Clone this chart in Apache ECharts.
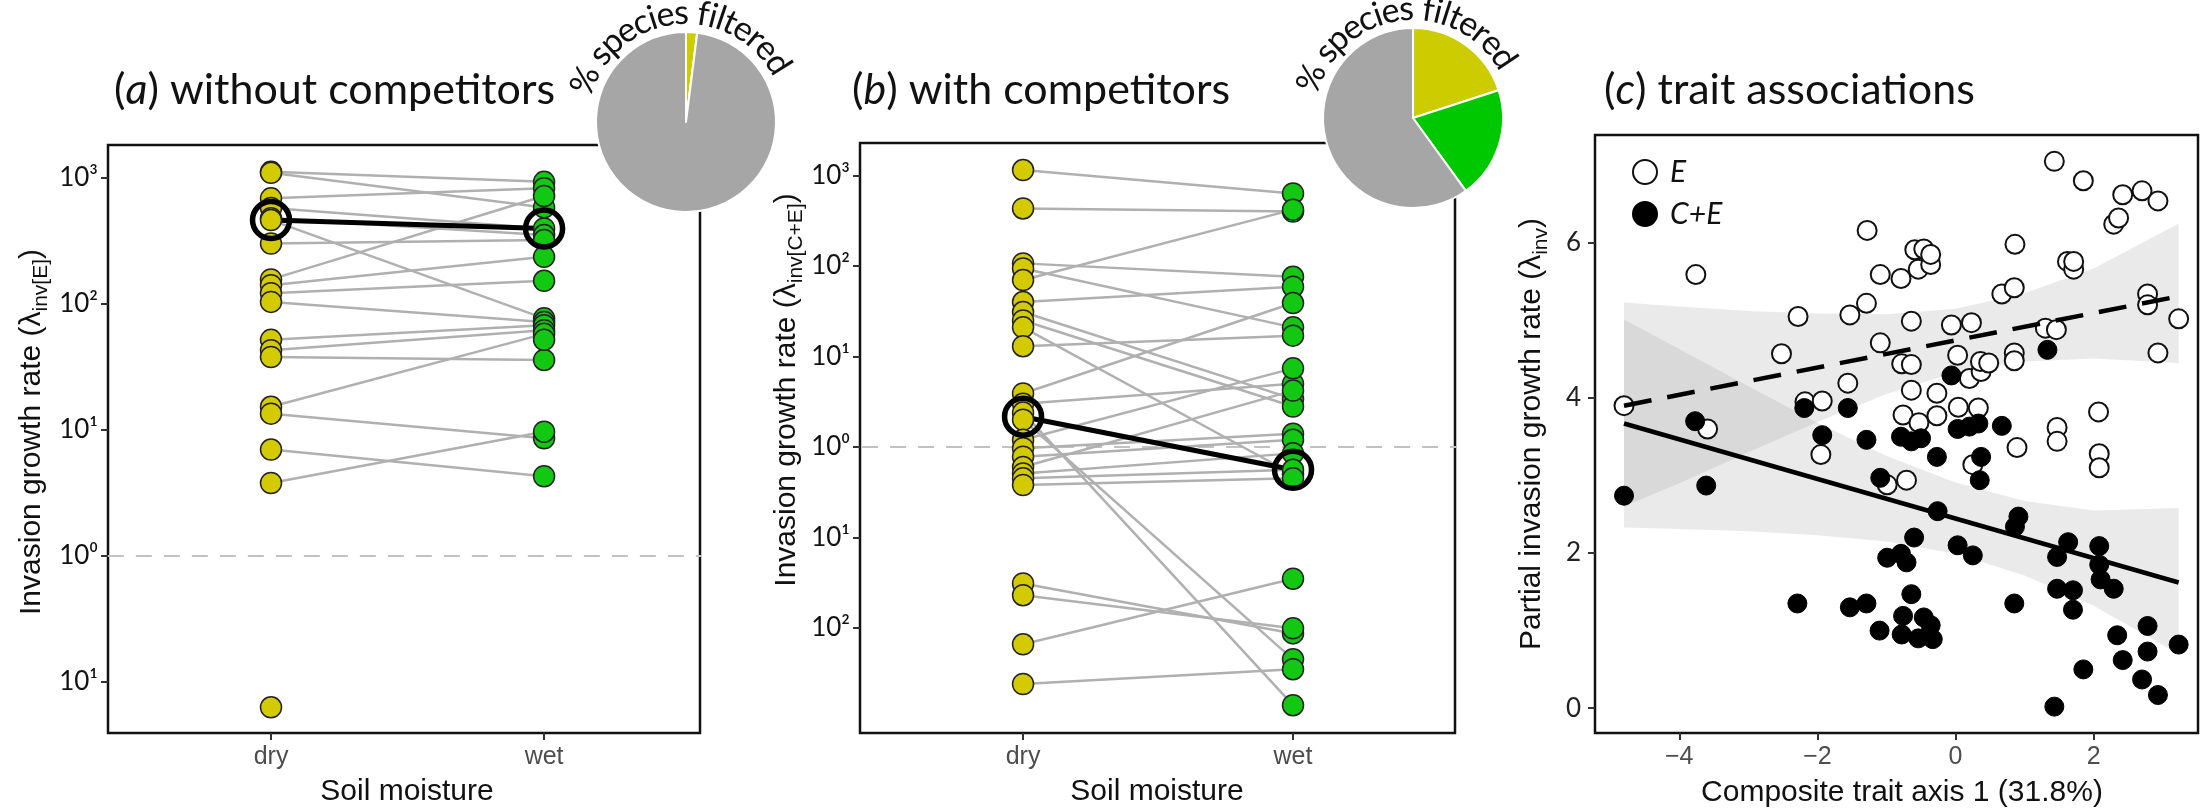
<!DOCTYPE html>
<html>
<head>
<meta charset="utf-8">
<script src="https://cdn.jsdelivr.net/npm/echarts@6.0.0/dist/echarts.min.js"></script>
<style>
  html, body { margin: 0; padding: 0; background: #fff; }
  #chart { width: 2205px; height: 810px; }
</style>
</head>
<body>
<div id="chart"></div>
<script>
// ---- panel (a): invasion growth rate without competitors (pairs dry -> wet, null = no partner)
const aDry = [1120, 1100, 690, 578, 480, 464, 302, 157, 141, 122, 104, 52, 43, 38, 15.3, 13.5, 7.0, 3.8, 0.063, null]
const aWet = [933, 585, 830, 398, 353, 77, 322, 720, 237, 153, 72, 68, 62, 36, 58, 8.6, 4.3, 9.7, null, 52]
const aMean = [464, 398]

// ---- panel (b): with competitors
const bDry = [1150, 433, 107, 94, 70, 40, 31, 25, 21, 13, 3.9, 3.0, 2.4, 2.0, 1.2, 0.97, 0.78, 0.6, 0.51, 0.45, 0.38, 0.031, 0.023, 0.0066, 0.0024]
const bWet = [635, 400, 76, 21, 420, 59, 3.4, 2.8, 0.5, 17, 39, 5.0, 0.0014, 0.0045, 7.4, 1.4, 1.2, 4.2, 0.85, 0.56, 0.45, 0.0087, 0.0099, 0.035, 0.0035]
const bMean = [2.16, 0.56]

const moistureNames = ['dry', 'wet']
const aTickVals = [0.1, 1, 10, 100, 1000]
const aTickText = ['10¹', '10⁰', '10¹', '10²', '10³']
const bTickVals = [0.01, 0.1, 1, 10, 100, 1000]
const bTickText = ['10²', '10¹', '10⁰', '10¹', '10²', '10³']

// ---- pies: % species filtered (yellow = dry, green = wet, grey = kept)
const pieNames = ['dry', 'wet', 'not filtered']
const pieA = [2, 0, 98]
const pieB = [20, 20, 60]

// ---- panel (c): trait associations
const eX = [-4.80, -3.59, -3.76, -2.52, -2.28, -2.18, -1.93, -1.95, -1.56, -1.53, -1.29, -1.28, -1.09, -1.09, -0.99, -0.79, -0.78, -0.76, -0.71, -0.64, -0.64, -0.64, -0.54, -0.59, -0.46, -0.36, -0.36, -0.53, -0.27, -0.27, -0.06, 0.03, 0.04, 0.20, 0.23, 0.25, 0.33, 0.37, 0.36, 0.48, 0.67, 0.85, 0.86, 0.85, 0.85, 0.89, 1.30, 1.46, 1.43, 1.47, 1.47, 1.62, 1.71, 1.71, 1.85, 2.07, 2.08, 2.08, 2.29, 2.36, 2.42, 2.70, 2.78, 2.78, 2.93, 2.93, 3.23]
const eY = [3.90, 3.60, 5.59, 4.57, 5.05, 3.95, 3.96, 3.27, 4.19, 5.07, 5.22, 6.16, 5.59, 4.71, 2.88, 5.54, 4.44, 3.78, 2.94, 4.99, 4.43, 4.10, 5.66, 5.91, 5.92, 5.72, 5.85, 3.68, 4.06, 3.77, 4.94, 4.55, 3.88, 4.25, 4.97, 3.14, 3.87, 4.34, 4.47, 4.45, 5.34, 5.42, 5.98, 4.58, 4.48, 3.36, 4.90, 4.88, 7.05, 3.62, 3.44, 5.76, 5.66, 5.76, 6.80, 3.82, 3.28, 3.10, 6.24, 6.32, 6.62, 6.67, 5.34, 5.20, 6.54, 4.58, 5.02]
const ceX = [-4.80, -3.77, -3.61, -2.29, -2.19, -1.93, -1.56, -1.53, -1.29, -1.29, -1.10, -1.09, -0.99, -0.79, -0.79, -0.78, -0.76, -0.71, -0.64, -0.64, -0.60, -0.54, -0.50, -0.46, -0.36, -0.33, -0.27, -0.26, -0.06, 0.03, 0.03, 0.20, 0.25, 0.33, 0.37, 0.35, 0.67, 0.85, 0.86, 0.91, 1.33, 1.43, 1.47, 1.47, 1.63, 1.70, 1.70, 1.85, 2.08, 2.08, 2.10, 2.29, 2.34, 2.42, 2.70, 2.78, 2.78, 2.93, 3.23]
const ceY = [2.74, 3.70, 2.87, 1.35, 3.87, 3.52, 3.87, 1.30, 3.46, 1.35, 1.00, 2.97, 1.94, 3.50, 1.99, 0.95, 1.19, 1.88, 3.44, 1.47, 2.20, 0.90, 3.48, 1.17, 1.07, 0.89, 3.24, 2.54, 4.29, 3.60, 2.10, 3.63, 1.97, 3.67, 3.24, 2.94, 3.64, 1.35, 2.34, 2.47, 4.62, 0.02, 1.95, 1.54, 2.14, 1.52, 1.27, 0.50, 2.09, 1.85, 1.66, 1.54, 0.94, 0.62, 0.37, 1.06, 0.73, 0.17, 0.82]

// fitted lines and their confidence bands
const eFitX = [-4.8, 3.23]
const eFitY = [3.90, 5.31]
const ceFitX = [-4.8, 3.23]
const ceFitY = [3.67, 1.62]
const bandX = [-4.8, -4, -3, -2, -1, 0, 1, 2, 3.23]
const eUpper = [5.23, 5.18, 5.12, 5.09, 5.08, 5.15, 5.35, 5.67, 6.25]
const eLower = [2.60, 2.90, 3.30, 3.69, 4.05, 4.33, 4.47, 4.51, 4.45]
const ceUpper = [5.01, 4.63, 4.15, 3.68, 3.25, 2.91, 2.67, 2.55, 2.58]
const ceLower = [2.33, 2.31, 2.28, 2.23, 2.15, 1.99, 1.71, 1.32, 0.70]
const cXTicks = [-4, -2, 0, 2]
const cYTicks = [0, 2, 4, 6]

const DRY = '#d4ca00'
const WET = '#12c812'
const PIE_COLORS = ['#cccc00', '#00c800', '#a6a6a6']
const SANS = 'Liberation Sans'
const CAL = 'Lato'

const chart = echarts.init(document.getElementById('chart'))

function tickLabel(vals, texts) {
  return v => {
    for (let i = 0; i < vals.length; i++) {
      if (Math.abs(Math.log10(v) - Math.log10(vals[i])) < 0.01) return texts[i]
    }
    return ''
  }
}

function moistureAxis(idx, min, max) {
  return {
    gridIndex: idx, type: 'value', min: min, max: max,
    axisLine: { show: false, onZero: false },
    splitLine: { show: false },
    axisTick: { show: true, customValues: [1, 2], length: 7, lineStyle: { color: '#333', width: 2 } },
    axisLabel: {
      customValues: [1, 2], margin: 12, color: '#4d4d4d', fontSize: 25, fontFamily: SANS,
      formatter: v => moistureNames[Math.round(v) - 1]
    }
  }
}

function logAxis(idx, min, max, vals, texts) {
  return {
    gridIndex: idx, type: 'log', logBase: 10, min: min, max: max,
    axisLine: { show: false, onZero: false },
    splitLine: { show: false },
    axisTick: { show: true, customValues: vals, length: 7, lineStyle: { color: '#333', width: 2 } },
    axisLabel: {
      customValues: vals, margin: 10, color: '#111', fontSize: 26, fontFamily: CAL,
      formatter: tickLabel(vals, texts)
    }
  }
}

function pairSeries(idx, dry, wet, mean) {
  const pairs = []
  dry.forEach((d, i) => {
    if (d != null && wet[i] != null) pairs.push({ coords: [[1, d], [2, wet[i]]] })
  })
  const dryPts = dry.filter(v => v != null).map(v => [1, v])
  const wetPts = wet.filter(v => v != null).map(v => [2, v])
  return [
    {
      type: 'line', xAxisIndex: idx, yAxisIndex: idx, silent: true, z: 1,
      data: [[0.3, 1], [2.7, 1]], symbol: 'none',
      lineStyle: { color: '#c2c2c2', width: 2, type: [16, 12] }
    },
    {
      type: 'lines', coordinateSystem: 'cartesian2d', xAxisIndex: idx, yAxisIndex: idx,
      silent: true, z: 2, data: pairs,
      lineStyle: { color: '#b0b0b0', width: 2.5, opacity: 1, curveness: 0 }
    },
    {
      type: 'line', xAxisIndex: idx, yAxisIndex: idx, silent: true, z: 3,
      data: [[1, mean[0]], [2, mean[1]]], symbol: 'none',
      lineStyle: { color: '#000', width: 5 }
    },
    {
      type: 'scatter', xAxisIndex: idx, yAxisIndex: idx, silent: true, z: 4,
      data: dryPts, symbolSize: 21,
      itemStyle: { color: DRY, borderColor: '#222', borderWidth: 1.5, opacity: 1 }
    },
    {
      type: 'scatter', xAxisIndex: idx, yAxisIndex: idx, silent: true, z: 4,
      data: wetPts, symbolSize: 21,
      itemStyle: { color: WET, borderColor: '#222', borderWidth: 1.5, opacity: 1 }
    },
    {
      type: 'scatter', xAxisIndex: idx, yAxisIndex: idx, silent: true, z: 5,
      data: [[1, mean[0]], [2, mean[1]]], symbolSize: 37,
      itemStyle: { color: 'rgba(0,0,0,0)', borderColor: '#000', borderWidth: 5.5, opacity: 1 }
    }
  ]
}

function bandSeries(upper, lower) {
  return {
    type: 'custom', xAxisIndex: 2, yAxisIndex: 2, silent: true, z: 1,
    data: [[0, 0]],
    renderItem: (params, api) => {
      const pts = []
      bandX.forEach((x, i) => pts.push(api.coord([x, upper[i]])))
      for (let i = bandX.length - 1; i >= 0; i--) pts.push(api.coord([bandX[i], lower[i]]))
      return { type: 'polygon', shape: { points: pts }, style: { fill: 'rgba(150,150,150,0.2)' } }
    }
  }
}

function pieSeries(cx, cy, vals) {
  return {
    type: 'pie', center: [cx, cy], radius: 90, startAngle: 90, clockwise: true,
    silent: true, z: 10, label: { show: false }, labelLine: { show: false },
    itemStyle: { borderColor: '#fff', borderWidth: 2 },
    data: vals.map((v, i) => ({ name: pieNames[i], value: v, itemStyle: { color: PIE_COLORS[i] } }))
  }
}

// "% species filtered" set along an arc above each pie
function arcText(cx, cy, radius, centerDeg, text, size) {
  const ctx = document.createElement('canvas').getContext('2d')
  ctx.font = size + 'px ' + CAL
  const chars = [...text]
  const widths = chars.map(c => ctx.measureText(c).width)
  const total = widths.reduce((a, b) => a + b, 0)
  let ang = centerDeg * Math.PI / 180 - total / radius / 2
  const out = []
  chars.forEach((c, i) => {
    const a = ang + widths[i] / 2 / radius
    out.push({
      type: 'text', x: cx + radius * Math.sin(a), y: cy - radius * Math.cos(a), rotation: -a, z: 20,
      style: { text: c, fontSize: size, fontFamily: CAL, fill: '#111', align: 'center', verticalAlign: 'middle', textAlign: 'center', textVerticalAlign: 'middle' }
    })
    ang += widths[i] / radius
  })
  return out
}

function label(x, y, text) {
  return {
    type: 'text', x: x, y: y, z: 20,
    style: {
      text: text, fill: '#111', fontSize: 30, fontFamily: SANS,
      align: 'center', verticalAlign: 'middle', textAlign: 'center', textVerticalAlign: 'middle'
    }
  }
}

const subRich = {
  n: { fontSize: 30, fontFamily: SANS, lineHeight: 34, verticalAlign: 'bottom', fill: '#111', color: '#111' },
  s: { fontSize: 21, fontFamily: SANS, lineHeight: 26, verticalAlign: 'bottom', fill: '#111', color: '#111', padding: [0, 0, -5, 0] }
}
const titleRich = { i: { fontStyle: 'italic', fontSize: 43, fontFamily: CAL } }

function title(x, letter, rest) {
  return {
    type: 'text', x: x, y: 90, z: 20,
    style: {
      text: '({i|' + letter + '}) ' + rest, rich: titleRich, fontSize: 43, fontFamily: CAL, fill: '#111',
      align: 'left', verticalAlign: 'middle', textAlign: 'left', textVerticalAlign: 'middle'
    }
  }
}

function yName(x, y, main, sub) {
  return {
    type: 'text', x: x, y: y, rotation: Math.PI / 2, z: 20,
    style: {
      text: '{n|' + main + '}{s|' + sub + '}{n|)}', rich: subRich,
      align: 'center', verticalAlign: 'middle', textAlign: 'center', textVerticalAlign: 'middle'
    }
  }
}

const graphics = [
  title(114, 'a', 'without competitors'),
  title(852, 'b', 'with competitors'),
  title(1604, 'c', 'trait associations'),
  yName(30, 432, 'Invasion growth rate (λ', 'inv[E]'),
  yName(785, 390, 'Invasion growth rate (λ', 'inv[C+E]'),
  yName(1530, 434, 'Partial invasion growth rate (λ', 'inv'),
  label(407, 792, 'Soil moisture'),
  label(1157, 792, 'Soil moisture'),
  label(1902, 793, 'Composite trait axis 1 (31.8%)')
].concat(arcText(686, 122, 109, -6, '% species filtered', 34), arcText(1413, 118, 109, -7, '% species filtered', 34))

const gridStyle = { show: true, borderColor: '#111', borderWidth: 2.5, backgroundColor: 'rgba(0,0,0,0)', containLabel: false }

const option = {
  animation: false,
  backgroundColor: '#fff',
  grid: [
    Object.assign({ left: 108, top: 145, width: 592, height: 588 }, gridStyle),
    Object.assign({ left: 860, top: 143, width: 595, height: 590 }, gridStyle),
    Object.assign({ left: 1595, top: 135, width: 603, height: 598 }, gridStyle)
  ],
  xAxis: [
    moistureAxis(0, 0.403, 2.571),
    moistureAxis(1, 0.396, 2.60),
    {
      gridIndex: 2, type: 'value', min: -5.22, max: 3.51,
      axisLine: { show: false, onZero: false }, splitLine: { show: false },
      axisTick: { show: true, customValues: cXTicks, length: 7, lineStyle: { color: '#333', width: 2 } },
      axisLabel: {
        customValues: cXTicks, margin: 12, color: '#4d4d4d', fontSize: 25, fontFamily: SANS,
        formatter: v => String(v).replace('-', '−')
      }
    }
  ],
  yAxis: [
    logAxis(0, 0.0394, 1830, aTickVals, aTickText),
    logAxis(1, 0.00069, 2290, bTickVals, bTickText),
    {
      gridIndex: 2, type: 'value', min: -0.32, max: 7.39,
      axisLine: { show: false, onZero: false }, splitLine: { show: false },
      axisTick: { show: true, customValues: cYTicks, length: 7, lineStyle: { color: '#333', width: 2 } },
      axisLabel: { customValues: cYTicks, margin: 14, color: '#222', fontSize: 26, fontFamily: CAL }
    }
  ],
  legend: {
    data: ['E', 'C+E'], left: 1627, top: 152, orient: 'vertical',
    itemWidth: 24, itemHeight: 24, itemGap: 12, icon: 'circle',
    textStyle: { fontFamily: CAL, fontStyle: 'italic', fontSize: 30, color: '#111', padding: [0, 0, 0, 8] }
  },
  graphic: graphics,
  series: [
    ...pairSeries(0, aDry, aWet, aMean),
    ...pairSeries(1, bDry, bWet, bMean),
    bandSeries(eUpper, eLower),
    bandSeries(ceUpper, ceLower),
    {
      name: 'E', type: 'scatter', xAxisIndex: 2, yAxisIndex: 2, silent: true, z: 3,
      data: eX.map((x, i) => [x, eY[i]]), symbolSize: 19,
      itemStyle: { color: '#fff', borderColor: '#111', borderWidth: 2, opacity: 1 }
    },
    {
      name: 'C+E', type: 'scatter', xAxisIndex: 2, yAxisIndex: 2, silent: true, z: 3,
      data: ceX.map((x, i) => [x, ceY[i]]), symbolSize: 19,
      itemStyle: { color: '#000', borderColor: '#000', borderWidth: 1, opacity: 1 }
    },
    {
      type: 'line', xAxisIndex: 2, yAxisIndex: 2, silent: true, z: 4,
      data: eFitX.map((x, i) => [x, eFitY[i]]), symbol: 'none',
      lineStyle: { color: '#000', width: 4.5, type: [28, 16] }
    },
    {
      type: 'line', xAxisIndex: 2, yAxisIndex: 2, silent: true, z: 4,
      data: ceFitX.map((x, i) => [x, ceFitY[i]]), symbol: 'none',
      lineStyle: { color: '#000', width: 4.5 }
    },
    pieSeries(686, 122, pieA),
    pieSeries(1413, 118, pieB)
  ]
}

chart.setOption(option)
</script>
</body>
</html>
